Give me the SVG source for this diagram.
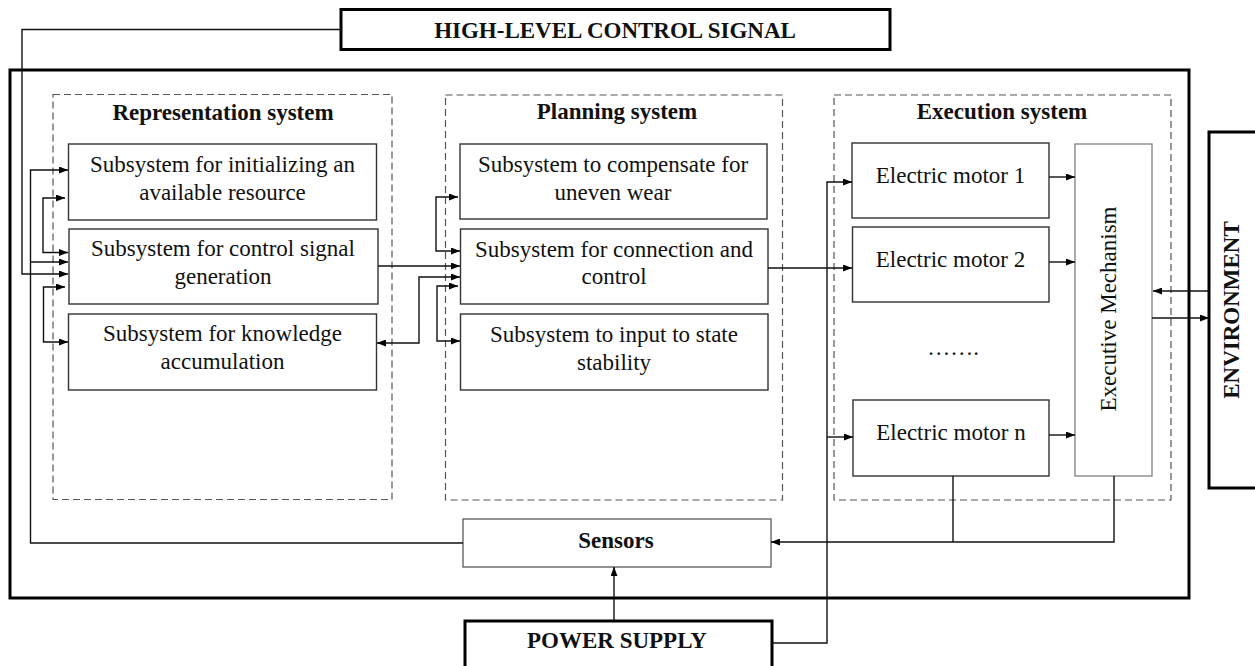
<svg xmlns="http://www.w3.org/2000/svg" width="1255" height="666" viewBox="0 0 1255 666">
<defs>
<marker id="arr" markerUnits="userSpaceOnUse" markerWidth="9" markerHeight="7" refX="9" refY="3.5" orient="auto-start-reverse">
<path d="M0,0 L9,3.5 L0,7 z" fill="#000"/>
</marker>
<style>
text{font-family:"Liberation Serif","Times New Roman",serif;fill:#111;font-size:23px}
.b{font-weight:bold}
.c{text-anchor:middle}
.box{fill:#fff;stroke:#333;stroke-width:1.4}
.gbox{fill:#fff;stroke:#888;stroke-width:1.4}
.sbox{fill:#fff;stroke:#666;stroke-width:1.4}
.thick{fill:none;stroke:#000;stroke-width:3}
.dash{fill:none;stroke:#555;stroke-width:1.2;stroke-dasharray:7,4}
.ln{fill:none;stroke:#111;stroke-width:1.4}
.a{marker-end:url(#arr)}
.aa{marker-start:url(#arr);marker-end:url(#arr)}
</style>
</defs>
<rect width="1255" height="666" fill="#fff"/>

<g id="outer"><rect class="thick" x="10" y="70" width="1179" height="528"/></g>

<g id="high-level"><rect class="thick" x="341" y="9.5" width="549" height="40"/>
<text class="b c" x="615" y="38">HIGH-LEVEL CONTROL SIGNAL</text></g>

<g id="environment"><rect class="thick" x="1209" y="132" width="60" height="356"/>
<text class="b c" transform="translate(1239,310) rotate(-90)">ENVIRONMENT</text></g>

<g id="power-supply"><rect class="thick" x="465" y="621" width="307" height="60"/>
<text class="b c" x="617" y="648">POWER SUPPLY</text></g>

<g id="representation-system"><rect class="dash" x="53" y="94.5" width="339" height="405"/>
<text class="b c" x="223" y="120">Representation system</text></g>
<g id="planning-system"><rect class="dash" x="445.5" y="95" width="337" height="405"/>
<text class="b c" x="617" y="119">Planning system</text></g>
<g id="execution-system"><rect class="dash" x="834" y="95" width="337" height="405"/>
<text class="b c" x="1002" y="119">Execution system</text></g>

<g id="rep-init"><rect class="box" x="68.5" y="144" width="308" height="76"/>
<text class="c" x="222.5" y="172">Subsystem for initializing an</text>
<text class="c" x="222.5" y="200">available resource</text></g>
<g id="rep-control"><rect class="box" x="69" y="229" width="309" height="75"/>
<text class="c" x="223" y="256">Subsystem for control signal</text>
<text class="c" x="223" y="284">generation</text></g>
<g id="rep-knowledge"><rect class="box" x="68.5" y="314" width="308" height="76"/>
<text class="c" x="222.5" y="341">Subsystem for knowledge</text>
<text class="c" x="222.5" y="369">accumulation</text></g>

<g id="plan-wear"><rect class="box" x="460" y="144" width="307" height="75"/>
<text class="c" x="613" y="172">Subsystem to compensate for</text>
<text class="c" x="613" y="200">uneven wear</text></g>
<g id="plan-connection"><rect class="box" x="460.5" y="229" width="307.5" height="75"/>
<text class="c" x="614" y="257">Subsystem for connection and</text>
<text class="c" x="614" y="284">control</text></g>
<g id="plan-stability"><rect class="box" x="460.5" y="314" width="307.5" height="76"/>
<text class="c" x="614" y="342">Subsystem to input to state</text>
<text class="c" x="614" y="370">stability</text></g>

<g id="motor-1"><rect class="box" x="852" y="143" width="197" height="75"/>
<text class="c" x="950.5" y="183">Electric motor 1</text></g>
<g id="motor-2"><rect class="box" x="852.5" y="227" width="196.5" height="75"/>
<text class="c" x="950.5" y="267">Electric motor 2</text></g>
<g id="dots"><text class="c" x="953" y="355">…….</text></g>
<g id="motor-n"><rect class="box" x="853" y="400" width="196" height="76"/>
<text class="c" x="951" y="440">Electric motor n</text></g>
<g id="executive-mechanism"><rect class="gbox" x="1075" y="144" width="77" height="332"/>
<text class="c" transform="translate(1116,309) rotate(-90)">Executive Mechanism</text></g>

<g id="sensors"><rect class="sbox" x="463" y="519" width="308" height="48"/>
<text class="b c" x="616" y="548">Sensors</text></g>

<g id="connectors">
<path class="ln a" d="M341,29.5 H22 V274 H68"/>
<path class="ln a" d="M463,543 H30.5 V170 H68"/>
<path class="ln a" d="M30.5,262 H68"/>
<path class="ln aa" d="M65,198 H43 V252.5 H68"/>
<path class="ln aa" d="M65,287 H43.5 V342 H68"/>
<path class="ln a" d="M378,266 H460"/>
<path class="ln aa" d="M377,343 H419 V277 H460"/>
<path class="ln aa" d="M458,197 H436 V251 H460"/>
<path class="ln aa" d="M458,286 H437 V341 H460"/>
<path class="ln a" d="M768,268 H852"/>
<path class="ln a" d="M772,643 H827 V182 H852"/>
<path class="ln a" d="M827,437 H853"/>
<path class="ln a" d="M1049,177 H1075"/>
<path class="ln a" d="M1049,262 H1075"/>
<path class="ln a" d="M1049,435 H1075"/>
<path class="ln a" d="M1209,291 H1153"/>
<path class="ln a" d="M1152,318 H1209"/>
<path class="ln" d="M953,476 V542"/>
<path class="ln a" d="M1114,476 V542 H771"/>
<path class="ln a" d="M614,621 V567"/>
</g>
</svg>
